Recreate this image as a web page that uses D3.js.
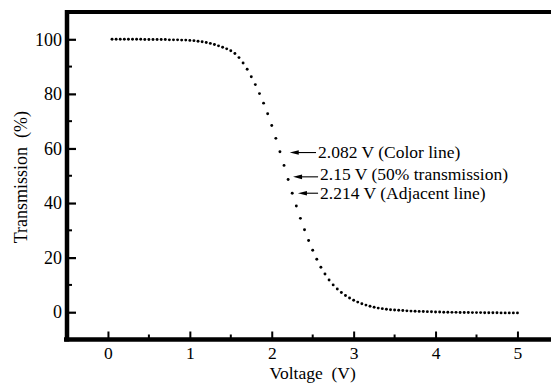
<!DOCTYPE html>
<html>
<head>
<meta charset="utf-8">
<script src="https://cdn.jsdelivr.net/npm/d3@7/dist/d3.min.js"></script>
<style>
  html, body { margin: 0; padding: 0; background: #fff; }
  svg { display: block; }
  text { font-family: "Liberation Serif", "Times New Roman", serif; fill: #000; }
</style>
</head>
<body>
<svg id="chart" width="551" height="389"></svg>
<script>
// ---- Data ----
const voltageStart = 0.05, voltageStep = 0.05;
const transmission = [
  100.0, 100.0, 100.0, 100.0, 100.0, 100.0, 100.0, 100.0, 99.9, 99.9,   // 0.05-0.50
  99.9, 99.9, 99.9, 99.9, 99.8, 99.8, 99.8, 99.7, 99.7, 99.6,           // 0.55-1.00
  99.5, 99.3, 99.1, 98.8, 98.5, 98.1, 97.6, 97.1, 96.5, 95.8,           // 1.05-1.50
  94.8, 93.3, 91.3, 89.0, 86.3, 83.4, 80.1, 76.6, 72.7, 68.4,           // 1.55-2.00
  63.7, 58.8, 53.8, 48.6, 43.6, 38.9, 34.4, 30.2, 26.3, 22.7,           // 2.05-2.50
  19.4, 16.5, 14.0, 11.8, 10.0, 8.5, 7.2, 6.1, 5.2, 4.4,                // 2.55-3.00
  3.7, 3.1, 2.6, 2.2, 1.8, 1.5, 1.3, 1.1, 0.9, 0.8,                     // 3.05-3.50
  0.7, 0.6, 0.5, 0.4, 0.35, 0.3, 0.25, 0.2, 0.15, 0.1,                  // 3.55-4.00
  0.05, 0.0, 0.0, -0.05, -0.05, -0.1, -0.1, -0.1, -0.15, -0.15,         // 4.05-4.50
  -0.15, -0.2, -0.2, -0.2, -0.2, -0.25, -0.25, -0.25, -0.25, -0.25      // 4.55-5.00
];
const voltage = transmission.map((_, i) => +(voltageStart + i * voltageStep).toFixed(2));

const xMajorTicks = [0, 1, 2, 3, 4, 5];
const xMinorTicks = [0.5, 1.5, 2.5, 3.5, 4.5];
const yMajorTicks = [0, 20, 40, 60, 80, 100];
const yMinorTicks = [10, 30, 50, 70, 90];

const annoText = ["2.082 V (Color line)", "2.15 V (50% transmission)", "2.214 V (Adjacent line)"];
const annoTipV = [2.22, 2.26, 2.32];
const annoTipT = [58.5, 49.6, 43.6];
const annoTextV = [2.565, 2.59, 2.59];
const annoBaselineShift = [5.0, 3.2, 6.2];

const xTitle = "Voltage  (V)";
const yTitle = "Transmission  (%)";

// ---- Scales ----
const svg = d3.select("#chart");
const x = d3.scaleLinear().domain([-0.5, 5.5]).range([67, 558.4]);
const y = d3.scaleLinear().domain([-10, 110]).range([339.5, 12]);

// ---- Top frame line ----
svg.append("line")
  .attr("x1", x(-0.5)).attr("x2", 551)
  .attr("y1", y(110)).attr("y2", y(110))
  .attr("stroke", "#000").attr("stroke-width", 4);

// ---- Axes ----
const gx = svg.append("g").attr("transform", `translate(0,${y(-10)})`);
gx.call(d3.axisBottom(x).tickValues(xMajorTicks).tickSize(-8).tickSizeOuter(0).tickPadding(7).tickFormat(d3.format("d")));
gx.select(".domain").attr("stroke-width", 4.5).attr("d", `M${x(-0.5) - 3},0H551`);
gx.selectAll(".tick line").attr("stroke-width", 2);
gx.selectAll(".tick text").attr("font-size", 17.5).attr("font-family", "Liberation Serif");
gx.selectAll(".minor").data(xMinorTicks).enter().append("line")
  .attr("x1", d => x(d)).attr("x2", d => x(d)).attr("y1", 0).attr("y2", -5)
  .attr("stroke", "#000").attr("stroke-width", 2);

const gy = svg.append("g").attr("transform", `translate(${x(-0.5)},0)`);
gy.call(d3.axisLeft(y).tickValues(yMajorTicks).tickSize(-9).tickSizeOuter(0).tickPadding(5).tickFormat(d3.format("d")));
gy.select(".domain").attr("stroke-width", 4.5).attr("d", `M0,${y(110) - 2}V${y(-10) + 2}`);
gy.selectAll(".tick line").attr("stroke-width", 2.2);
gy.selectAll(".tick text").attr("font-size", 18).attr("font-family", "Liberation Serif");
gy.selectAll(".minor").data(yMinorTicks).enter().append("line")
  .attr("x1", 0).attr("x2", 5).attr("y1", d => y(d)).attr("y2", d => y(d))
  .attr("stroke", "#000").attr("stroke-width", 2);

// ---- Axis titles ----
svg.append("text")
  .attr("x", x(2.5)).attr("y", 379)
  .attr("text-anchor", "middle").attr("font-size", 17.5)
  .style("white-space", "pre")
  .text(xTitle);

svg.append("text")
  .attr("transform", `translate(27,${y(49.5)}) rotate(-90)`)
  .attr("text-anchor", "middle").attr("font-size", 18)
  .style("white-space", "pre")
  .text(yTitle);

// ---- Data points ----
svg.append("g").selectAll("circle")
  .data(voltage.map((v, i) => [v, transmission[i]]))
  .enter().append("circle")
  .attr("cx", d => x(d[0])).attr("cy", d => y(d[1]))
  .attr("r", 1.45).attr("fill", "#000");

// ---- Annotations ----
const ag = svg.append("g");
annoText.forEach((t, i) => {
  const tx = x(annoTipV[i]), ty = y(annoTipT[i]), ex = x(annoTextV[i]) - 2;
  ag.append("line").attr("x1", tx + 6).attr("x2", ex).attr("y1", ty).attr("y2", ty)
    .attr("stroke", "#000").attr("stroke-width", 1.1);
  ag.append("path")
    .attr("d", `M${tx},${ty}L${tx + 9},${ty - 2.3}L${tx + 9},${ty + 2.3}Z`)
    .attr("fill", "#000");
  ag.append("text").attr("x", x(annoTextV[i])).attr("y", ty + annoBaselineShift[i])
    .attr("font-size", 17.5).text(t);
});
</script>
</body>
</html>
